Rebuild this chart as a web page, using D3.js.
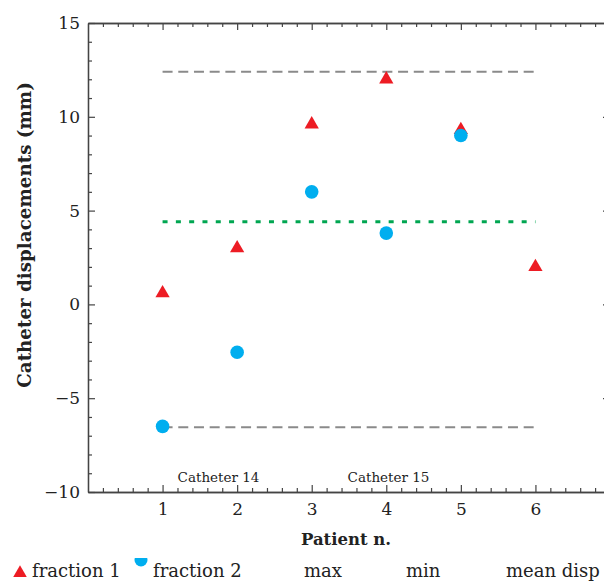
<!DOCTYPE html>
<html>
<head>
<meta charset="utf-8">
<script src="https://cdn.jsdelivr.net/npm/d3@7"></script>
<style>
  body { margin: 0; background: #fff; }
  text { font-family: "DejaVu Serif", serif; fill: #222; }
</style>
</head>
<body>
<svg id="canvas" width="604" height="583"></svg>
<script>
const patients = [1, 2, 3, 4, 5, 6]
const fraction1 = [0.6, 3.0, 9.6, 12.0, 9.3, 2.0]
const fraction2 = [-6.5, -2.55, 6.0, 3.8, 9.0, null]
const maxDisp = 12.4
const minDisp = -6.55
const meanDisp = 4.4
const yTicks = [-10, -5, 0, 5, 10, 15]
const catheterLabels = [{ name: "Catheter 14", at: 1.75 }, { name: "Catheter 15", at: 4.03 }]
const legendNames = ["fraction 1", "fraction 2", "max", "min", "mean disp"]

const canvas = d3.select("#canvas")

const x = d3.scaleLinear().domain([0, 7]).range([88, 610])
const y = d3.scaleLinear().domain([-10, 15]).range([492, 23])

const red = "#ed1c24"
const blue = "#00aeef"

// frame + axes
const minorX = d3.range(0, 7.01, 0.2).filter(v => Math.abs(v - Math.round(v)) > 0.01)
const minorY = d3.range(-10, 15.01, 1).filter(v => v % 5 !== 0)

const styleAxis = g => {
  g.select(".domain").attr("stroke", "#444").attr("stroke-width", 1.3)
  g.selectAll(".tick line").attr("stroke", "#444").attr("stroke-width", 1.2)
  g.selectAll("text").style("font-size", "17px").style("font-family", "DejaVu Serif, serif").attr("fill", "#222")
}

canvas.append("g").attr("transform", "translate(0," + y(-10) + ")")
      .call(d3.axisBottom(x).tickValues(patients).tickFormat(d3.format("d")).tickSizeInner(-7).tickSizeOuter(0).tickPadding(11))
      .call(styleAxis)
canvas.append("g").attr("transform", "translate(0," + y(-10) + ")")
      .call(d3.axisBottom(x).tickValues(minorX).tickFormat("").tickSizeInner(-4).tickSizeOuter(0))
      .call(styleAxis)
canvas.append("g").attr("transform", "translate(0," + y(15) + ")")
      .call(d3.axisTop(x).tickValues(patients).tickFormat("").tickSizeInner(-7).tickSizeOuter(0))
      .call(styleAxis)
canvas.append("g").attr("transform", "translate(0," + y(15) + ")")
      .call(d3.axisTop(x).tickValues(minorX).tickFormat("").tickSizeInner(-4).tickSizeOuter(0))
      .call(styleAxis)

canvas.append("g").attr("transform", "translate(" + x(0) + ",0)")
      .call(d3.axisLeft(y).tickValues(yTicks).tickSizeInner(-7).tickSizeOuter(0).tickPadding(8))
      .call(styleAxis)
canvas.append("g").attr("transform", "translate(" + x(0) + ",0)")
      .call(d3.axisLeft(y).tickValues(minorY).tickFormat("").tickSizeInner(-4).tickSizeOuter(0))
      .call(styleAxis)
canvas.append("g").attr("transform", "translate(" + x(7) + ",0)")
      .call(d3.axisRight(y).tickValues(yTicks).tickFormat("").tickSizeInner(-7).tickSizeOuter(0))
      .call(styleAxis)

// reference lines
const refLine = (v, color, width, dash) => {
  canvas.append("line")
        .attr("x1", x(1)).attr("x2", x(6))
        .attr("y1", y(v)).attr("y2", y(v))
        .attr("stroke", color).attr("stroke-width", width)
        .attr("stroke-dasharray", dash)
}
refLine(maxDisp, "#8a8a8a", 2, "10,5.7")
refLine(minDisp, "#8a8a8a", 2, "10,5.7")
refLine(meanDisp, "#00a651", 3, "5,8.3")

// points
const tri = d3.symbol().type(d3.symbolTriangle).size(88)

canvas.selectAll(".f1")
      .data(patients.map((p, i) => ({ p: p, v: fraction1[i] })))
      .enter()
      .append("path")
      .attr("class", "f1")
      .attr("d", tri)
      .attr("fill", red)
      .attr("transform", d => "translate(" + x(d.p) + "," + y(d.v) + ")")

canvas.selectAll(".f2")
      .data(patients.map((p, i) => ({ p: p, v: fraction2[i] })).filter(d => d.v !== null))
      .enter()
      .append("circle")
      .attr("class", "f2")
      .attr("r", 6.8)
      .attr("fill", blue)
      .attr("cx", d => x(d.p))
      .attr("cy", d => y(d.v))

// catheter labels
canvas.selectAll(".cath")
      .data(catheterLabels)
      .enter()
      .append("text")
      .attr("x", d => x(d.at))
      .attr("y", 482)
      .attr("text-anchor", "middle")
      .style("font-size", "13.5px")
      .text(d => d.name)

// axis titles
canvas.append("text")
      .attr("x", 346).attr("y", 545)
      .attr("text-anchor", "middle")
      .style("font-size", "16.5px").style("font-weight", "bold")
      .text("Patient n.")

canvas.append("text")
      .attr("transform", "translate(31,235) rotate(-90)")
      .attr("text-anchor", "middle")
      .style("font-size", "18.3px").style("font-weight", "bold")
      .text("Catheter displacements (mm)")

// legend
const legendX = [32, 153, 304, 406, 506]
canvas.selectAll(".leg")
      .data(legendNames)
      .enter()
      .append("text")
      .attr("x", (d, i) => legendX[i])
      .attr("y", 577)
      .style("font-size", "18px")
      .text(d => d)

canvas.append("path")
      .attr("d", d3.symbol().type(d3.symbolTriangle).size(80))
      .attr("fill", red)
      .attr("transform", "translate(20,573)")

canvas.append("clipPath").attr("id", "legclip")
      .append("rect").attr("x", 130).attr("y", 558).attr("width", 25).attr("height", 20)
canvas.append("circle")
      .attr("r", 6.5).attr("cx", 141).attr("cy", 560)
      .attr("fill", blue)
      .attr("clip-path", "url(#legclip)")
</script>
</body>
</html>
